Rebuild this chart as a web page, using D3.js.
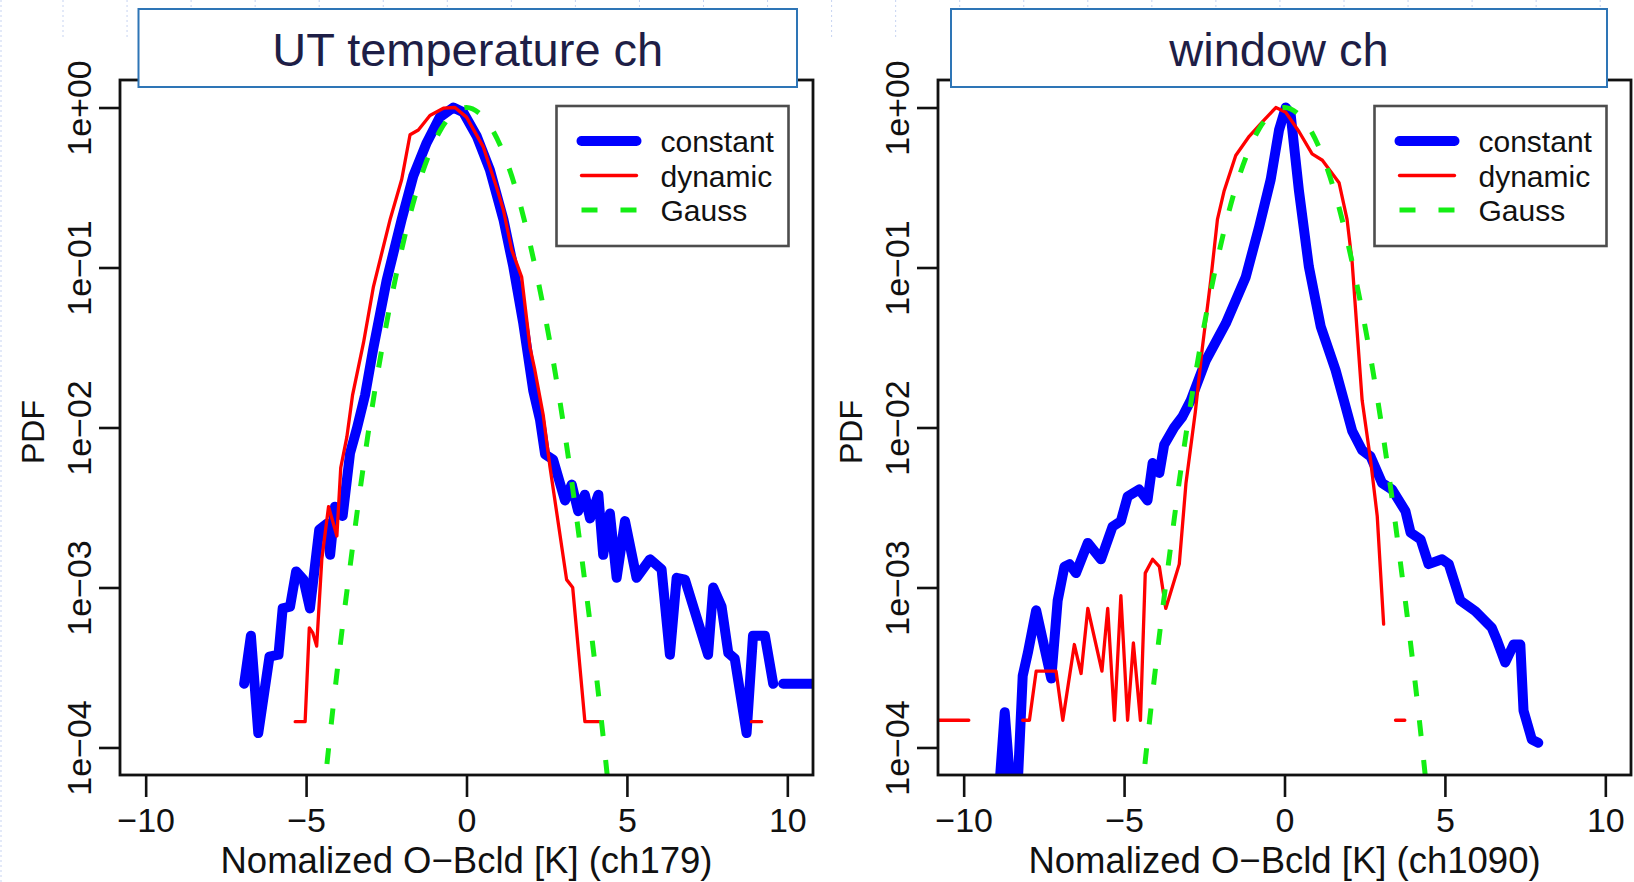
<!DOCTYPE html>
<html>
<head>
<meta charset="utf-8">
<script src="https://cdn.jsdelivr.net/npm/d3@7"></script>
<style>
  html, body { margin: 0; padding: 0; background: #fff; }
  svg { display: block; }
</style>
</head>
<body>
<svg id="chart" width="1634" height="882"></svg>
<script>
// ---- data ---------------------------------------------------------------
const panelTitles = ["UT temperature ch", "window ch"];
const xTitles = ["Nomalized O\u2212Bcld [K] (ch179)", "Nomalized O\u2212Bcld [K] (ch1090)"];
const yTitle = "PDF";
const seriesNames = ["constant", "dynamic", "Gauss"];

const xTicks = [-10, -5, 0, 5, 10];
const xTickLabels = ["\u221210", "\u22125", "0", "5", "10"];
const yTicks = [1, 1e-1, 1e-2, 1e-3, 1e-4];
const yTickLabels = ["1e+00", "1e\u221201", "1e\u221202", "1e\u221203", "1e\u221204"];

// [x, pdf]; null marks a break in the line
const utConstant = [
  [-6.93, 2.5e-4], [-6.72, 5.0e-4], [-6.49, 1.23e-4], [-6.14, 3.7e-4], [-5.86, 3.8e-4],
  [-5.73, 7.4e-4], [-5.50, 7.6e-4], [-5.31, 1.26e-3], [-5.08, 1.12e-3], [-4.88, 7.4e-4],
  [-4.59, 2.3e-3], [-4.36, 2.5e-3], [-4.25, 1.6e-3], [-4.10, 3.2e-3], [-3.86, 2.8e-3],
  [-3.63, 6.9e-3], [-3.42, 9.8e-3], [-3.16, 1.6e-2], [-2.90, 3.16e-2], [-2.49, 8.3e-2],
  [-2.02, 0.20], [-1.66, 0.372], [-1.24, 0.603], [-0.83, 0.871], [-0.41, 1.0],
  [-0.10, 0.933], [0.32, 0.661], [0.73, 0.407], [1.15, 0.20], [1.46, 0.101],
  [1.77, 4.47e-2], [2.08, 1.7e-2], [2.29, 1.12e-2], [2.45, 6.8e-3], [2.70, 6.3e-3],
  [3.07, 3.5e-3], [3.28, 4.4e-3], [3.48, 3.0e-3], [3.69, 3.8e-3], [3.85, 2.7e-3],
  [4.11, 3.8e-3], [4.26, 1.6e-3], [4.47, 2.9e-3], [4.68, 1.15e-3], [4.94, 2.6e-3],
  [5.30, 1.15e-3], [5.72, 1.5e-3], [6.08, 1.3e-3], [6.34, 3.8e-4], [6.55, 1.15e-3],
  [6.81, 1.12e-3], [7.53, 3.8e-4], [7.69, 1.0e-3], [7.95, 7.6e-4], [8.16, 3.9e-4],
  [8.36, 3.6e-4], [8.73, 1.23e-4], [8.93, 5.0e-4], [9.30, 5.0e-4], [9.56, 2.5e-4],
  null,
  [9.87, 2.5e-4], [11.0, 2.5e-4]
];

const utDynamic = [
  [-5.34, 1.45e-4], [-5.03, 1.45e-4], [-4.90, 5.6e-4], [-4.79, 5.2e-4], [-4.67, 4.3e-4],
  [-4.51, 1.5e-3], [-4.30, 3.2e-3], [-4.04, 2.1e-3], [-3.92, 5.6e-3], [-3.73, 8.7e-3],
  [-3.55, 1.6e-2], [-3.21, 3.39e-2], [-2.90, 7.6e-2], [-2.38, 0.20], [-2.02, 0.355],
  [-1.76, 0.676], [-1.50, 0.724], [-1.14, 0.891], [-0.72, 0.99], [-0.36, 1.0],
  [0.0, 0.871], [0.52, 0.57], [0.94, 0.316], [1.15, 0.229], [1.41, 0.129],
  [1.72, 8.7e-2], [1.98, 3.16e-2], [2.13, 2.29e-2], [2.39, 1.2e-2], [2.60, 5.7e-3],
  [3.12, 1.12e-3], [3.31, 1.0e-3], [3.69, 1.45e-4], [4.16, 1.45e-4],
  null,
  [8.88, 1.45e-4], [9.20, 1.45e-4]
];

const winConstant = [
  [-9.05, 2.0e-5], [-8.72, 1.66e-4], [-8.40, 2.5e-5], [-8.16, 2.8e-4], [-8.00, 3.9e-4],
  [-7.74, 7.2e-4], [-7.27, 2.7e-4], [-7.07, 8.3e-4], [-6.86, 1.35e-3], [-6.70, 1.4e-3],
  [-6.50, 1.23e-3], [-6.13, 1.9e-3], [-5.72, 1.5e-3], [-5.36, 2.4e-3], [-5.10, 2.6e-3],
  [-4.89, 3.7e-3], [-4.53, 4.1e-3], [-4.27, 3.5e-3], [-4.11, 6.0e-3], [-3.90, 5.2e-3],
  [-3.75, 7.8e-3], [-3.44, 1.0e-2], [-3.18, 1.17e-2], [-2.92, 1.48e-2], [-2.45, 2.63e-2],
  [-1.83, 4.47e-2], [-1.21, 8.7e-2], [-0.79, 0.18], [-0.43, 0.355], [-0.17, 0.724],
  [0.04, 1.0], [0.19, 0.912], [0.45, 0.302], [0.76, 0.101], [1.13, 4.27e-2],
  [1.59, 2.29e-2], [1.85, 1.48e-2], [2.11, 9.5e-3], [2.42, 7.2e-3], [2.68, 6.6e-3],
  [3.04, 4.5e-3], [3.35, 4.1e-3], [3.77, 3.0e-3], [3.93, 2.2e-3], [4.24, 2.0e-3],
  [4.49, 1.4e-3], [4.91, 1.5e-3], [5.12, 1.4e-3], [5.48, 8.3e-4], [5.95, 7.1e-4],
  [6.46, 5.6e-4], [6.62, 4.7e-4], [6.88, 3.4e-4], [7.14, 4.4e-4], [7.35, 4.4e-4],
  [7.45, 1.7e-4], [7.71, 1.12e-4], [7.91, 1.07e-4]
];

const winDynamic = [
  [-11.0, 1.48e-4], [-9.84, 1.48e-4],
  null,
  [-8.16, 1.48e-4], [-7.95, 1.48e-4], [-7.74, 3.0e-4], [-7.12, 3.0e-4], [-6.91, 1.48e-4],
  [-6.55, 4.4e-4], [-6.34, 2.9e-4], [-6.13, 7.4e-4], [-5.69, 3.0e-4], [-5.51, 7.4e-4],
  [-5.30, 1.48e-4], [-5.10, 8.9e-4], [-4.89, 1.48e-4], [-4.71, 4.5e-4], [-4.49, 1.48e-4],
  [-4.34, 1.23e-3], [-4.11, 1.5e-3], [-3.90, 1.35e-3], [-3.70, 7.4e-4], [-3.28, 1.4e-3],
  [-3.07, 4.5e-3], [-2.78, 1.25e-2], [-2.56, 3.16e-2], [-2.30, 8.3e-2], [-2.09, 0.20],
  [-1.88, 0.302], [-1.52, 0.501], [-1.10, 0.661], [-0.69, 0.813], [-0.27, 1.0],
  [0.04, 0.933], [0.45, 0.708], [0.86, 0.513], [1.18, 0.468], [1.70, 0.339],
  [1.95, 0.20], [2.11, 0.107], [2.26, 4.07e-2], [2.42, 1.48e-2], [2.68, 6.3e-3],
  [2.89, 2.8e-3], [3.09, 5.9e-4],
  null,
  [3.46, 1.48e-4], [3.75, 1.48e-4]
];

const gaussX = [-4.6, -4.4, -4.0, -3.6, -3.2, -2.8, -2.4, -2.0, -1.6, -1.2, -0.8, -0.4, 0,
                0.4, 0.8, 1.2, 1.6, 2.0, 2.4, 2.8, 3.2, 3.6, 4.0, 4.4, 4.6];
const gaussP = [2.5e-5, 6.3e-5, 3.4e-4, 1.5e-3, 6.0e-3, 2.0e-2, 5.6e-2, 0.135, 0.28, 0.49, 0.73, 0.92, 1.0,
                0.92, 0.73, 0.49, 0.28, 0.135, 5.6e-2, 2.0e-2, 6.0e-3, 1.5e-3, 3.4e-4, 6.3e-5, 2.5e-5];

// ---- drawing ------------------------------------------------------------
const svg = d3.select("#chart");
const W = 1634, H = 882;
const FONT = "'Liberation Sans', Arial, Helvetica, sans-serif";

// faint slide guides in the background
const guides = svg.append("g").attr("stroke", "#c6d3f1").attr("stroke-width", 1)
  .attr("stroke-dasharray", "2,3");
d3.range(63, W, 64.05).forEach(gx => {
  guides.append("line").attr("x1", gx).attr("x2", gx).attr("y1", 0).attr("y2", 38);
});
guides.append("line").attr("x1", 1).attr("x2", 1).attr("y1", 0).attr("y2", H);

const styles = {
  constant: { color: "#0000ff", width: 10, dash: null },
  dynamic:  { color: "#ff0000", width: 3.3, dash: null },
  Gauss:    { color: "#14ee14", width: 5, dash: "16,24" }
};

const gaussData = gaussX.map((gx, i) => [gx, gaussP[i]]);

const panels = [
  { left: 120, title: panelTitles[0], titleBox: [138.5, 797], xTitle: xTitles[0],
    constant: utConstant, dynamic: utDynamic },
  { left: 938, title: panelTitles[1], titleBox: [951, 1607], xTitle: xTitles[1],
    constant: winConstant, dynamic: winDynamic }
];

const plotW = 693, plotTop = 80, plotBottom = 775;

panels.forEach((p, i) => {
  const x = d3.scaleLinear().domain([-10.8, 10.8]).range([p.left, p.left + plotW]);
  const y = d3.scaleLog().domain([Math.pow(10, -4.172), Math.pow(10, 0.172)]).range([plotBottom, plotTop]);
  const g = svg.append("g");

  const clipId = "clip" + i;
  svg.append("clipPath").attr("id", clipId).append("rect")
    .attr("x", p.left).attr("y", plotTop).attr("width", plotW).attr("height", plotBottom - plotTop);

  // x axis
  const xAxis = g.append("g").attr("transform", `translate(0,${plotBottom})`)
    .call(d3.axisBottom(x).tickValues(xTicks).tickSize(22).tickSizeOuter(0)
      .tickFormat((d, k) => xTickLabels[k]));
  xAxis.select(".domain").remove();
  xAxis.selectAll(".tick line").attr("stroke", "#111").attr("stroke-width", 2.6);
  xAxis.selectAll(".tick text").attr("y", 57).attr("dy", null)
    .attr("font-family", FONT).attr("font-size", 34).attr("fill", "#111");

  // y axis
  const yAxis = g.append("g").attr("transform", `translate(${p.left},0)`)
    .call(d3.axisLeft(y).tickValues(yTicks).tickSize(21).tickSizeOuter(0)
      .tickFormat((d, k) => yTickLabels[k]));
  yAxis.select(".domain").remove();
  yAxis.selectAll(".tick line").attr("stroke", "#111").attr("stroke-width", 2.6);
  yAxis.selectAll(".tick text")
    .attr("x", null).attr("dy", null)
    .attr("transform", "translate(-29,0) rotate(-90)")
    .attr("text-anchor", "middle")
    .attr("font-family", FONT).attr("font-size", 34).attr("fill", "#111");

  // axis titles
  g.append("text").attr("x", p.left + plotW / 2).attr("y", 873)
    .attr("text-anchor", "middle").attr("font-family", FONT).attr("font-size", 36.5)
    .attr("fill", "#111").text(p.xTitle);
  g.append("text")
    .attr("transform", `translate(${p.left - 76},432) rotate(-90)`)
    .attr("text-anchor", "middle").attr("font-family", FONT).attr("font-size", 32)
    .attr("fill", "#111").text(yTitle);

  // series
  const line = d3.line()
    .defined(d => d !== null)
    .x(d => x(d[0])).y(d => y(d[1]));
  const lines = g.append("g").attr("clip-path", `url(#${clipId})`)
    .attr("fill", "none").attr("stroke-linejoin", "round").attr("stroke-linecap", "round");

  lines.append("path").datum(p.constant).attr("d", line)
    .attr("stroke", styles.constant.color).attr("stroke-width", styles.constant.width);
  lines.append("path").datum(p.dynamic).attr("d", line)
    .attr("stroke", styles.dynamic.color).attr("stroke-width", styles.dynamic.width);
  lines.append("path").datum(gaussData)
    .attr("d", line.curve(d3.curveMonotoneX))
    .attr("stroke", styles.Gauss.color).attr("stroke-width", styles.Gauss.width)
    .attr("stroke-dasharray", styles.Gauss.dash).attr("stroke-linecap", "butt");

  // plot frame
  g.append("rect").attr("x", p.left).attr("y", plotTop).attr("width", plotW).attr("height", plotBottom - plotTop)
    .attr("fill", "none").attr("stroke", "#111").attr("stroke-width", 2.8);

  // legend
  const lx = p.left + 436.5, ly = 106;
  const leg = g.append("g");
  leg.append("rect").attr("x", lx).attr("y", ly).attr("width", 232).attr("height", 140)
    .attr("fill", "#fff").attr("stroke", "#4d4d4d").attr("stroke-width", 2.6);
  const rowY = [141, 175.5, 210];
  seriesNames.forEach((name, k) => {
    const s = styles[name];
    leg.append("line").attr("x1", lx + 25).attr("x2", lx + 80)
      .attr("y1", rowY[k]).attr("y2", rowY[k])
      .attr("stroke", s.color).attr("stroke-width", s.width)
      .attr("stroke-linecap", s.dash ? "butt" : "round")
      .attr("stroke-dasharray", s.dash ? "16,23" : null);
    leg.append("text").attr("x", lx + 104).attr("y", rowY[k] + 11)
      .attr("font-family", FONT).attr("font-size", 30).attr("fill", "#111").text(name);
  });

  // title box
  const tb = svg.append("g");
  tb.append("rect").attr("x", p.titleBox[0]).attr("y", 9).attr("width", p.titleBox[1] - p.titleBox[0])
    .attr("height", 78).attr("fill", "#fff").attr("stroke", "#2e75b6").attr("stroke-width", 2);
  tb.append("text").attr("x", (p.titleBox[0] + p.titleBox[1]) / 2).attr("y", 66)
    .attr("text-anchor", "middle").attr("font-family", FONT).attr("font-size", 47)
    .attr("fill", "#1e1e46").text(p.title);
});
</script>
</body>
</html>
